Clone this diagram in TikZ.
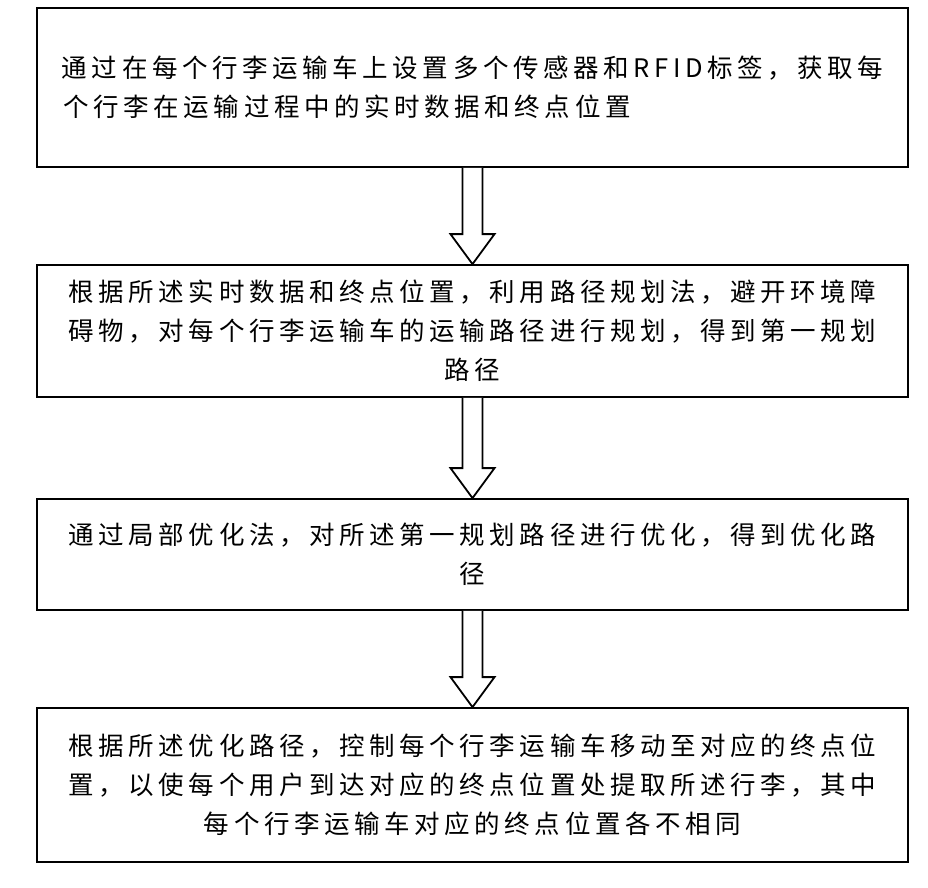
\documentclass[tikz,border=0pt]{standalone}
\usepackage{fontspec}
\setmainfont{Noto Sans CJK SC}[LetterSpace=18]
\usetikzlibrary{calc}
\begin{document}
\begin{tikzpicture}[x=1pt,y=-1pt,
  stepbox/.style={draw,line width=1.8pt,minimum width=871pt,text width=841pt,align=center,inner xsep=15pt,font=\fontsize{25.5}{39}\selectfont},
  hollow/.style={draw,line width=1.8pt,fill=white}]
\useasboundingbox (0,0) rectangle (928,887);
\node[stepbox,minimum height=159pt] (b1) at (472.5,87.5) {通过在每个行李运输车上设置多个传感器和RFID标签，获取每\\\makebox[818pt][l]{个行李在运输过程中的实时数据和终点位置}};
\node[stepbox,minimum height=132pt] (b2) at (472.5,331) {根据所述实时数据和终点位置，利用路径规划法，避开环境障\\碍物，对每个行李运输车的运输路径进行规划，得到第一规划\\路径};
\node[stepbox,minimum height=111pt] (b3) at (472.5,554.5) {通过局部优化法，对所述第一规划路径进行优化，得到优化路\\径};
\node[stepbox,minimum height=154pt] (b4) at (472.5,785) {根据所述优化路径，控制每个行李运输车移动至对应的终点位\\置，以使每个用户到达对应的终点位置处提取所述行李，其中\\每个行李运输车对应的终点位置各不相同};
\foreach \a/\b in {b1/b2,b2/b3,b3/b4}{
  \draw[hollow] ($(\a.south)+(-10,0)$) -- ($(\b.north)+(-10,-30)$) -- ($(\b.north)+(-22,-30)$)
    -- (\b.north) -- ($(\b.north)+(22,-30)$) -- ($(\b.north)+(10,-30)$) -- ($(\a.south)+(10,0)$);
}
\end{tikzpicture}
\end{document}
